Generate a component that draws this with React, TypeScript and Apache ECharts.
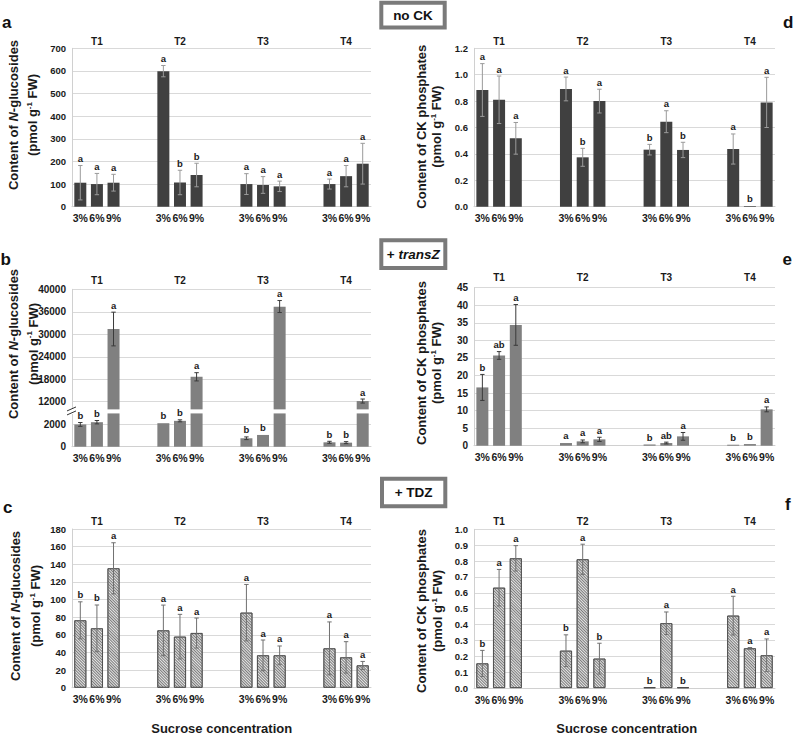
import React, { useEffect, useRef } from 'react';
import * as echarts from 'echarts';

const FONT = '"Liberation Sans", Arial, Helvetica, sans-serif';

const timepoints = ['T1', 'T2', 'T3', 'T4'];
const concentrations = ['3%', '6%', '9%'];

// (a) no CK — N-glucosides
const noCkGlucMeans = [[106, 100, 106], [599, 107, 140], [100, 96, 90], [100, 135, 190]];
const noCkGlucErr = [[76, 47, 37], [25, 54, 52], [46, 37, 23], [22, 47, 90]];
const noCkGlucLetters = [['a', 'a', 'a'], ['a', 'b', 'b'], ['a', 'a', 'a'], ['a', 'a', 'a']];

// (d) no CK — CK phosphates
const noCkPhosMeans = [[0.884, 0.81, 0.518], [0.892, 0.374, 0.8], [0.432, 0.644, 0.43], [0.437, 0.005, 0.79]];
const noCkPhosErr = [[0.2, 0.18, 0.12], [0.09, 0.068, 0.09], [0.04, 0.083, 0.058], [0.114, 0.002, 0.19]];
const noCkPhosLetters = [['a', 'a', 'a'], ['a', 'b', 'a'], ['b', 'a', 'b'], ['a', 'b', 'a']];

// (b) + transZ — N-glucosides
const tzGlucMeans = [[1980, 2180, 31400], [2090, 2300, 18650], [750, 1045, 36900], [390, 360, 12180]];
const tzGlucErr = [[170, 150, 4500], [30, 90, 1100], [120, 30, 1100], [90, 90, 540]];
const tzGlucLetters = [['b', 'b', 'a'], ['b', 'b', 'a'], ['b', 'b', 'a'], ['b', 'b', 'a']];
const brokenTicks = ['0', '2000', '12000', '18000', '24000', '30000', '36000', '40000'];

// (e) + transZ — CK phosphates
const tzPhosMeans = [[16.6, 25.7, 34.4], [0.76, 1.23, 1.8], [0.35, 0.76, 2.66], [0.28, 0.47, 10.35]];
const tzPhosErr = [[3.7, 1.1, 5.8], [0.1, 0.4, 0.6], [0.05, 0.25, 1.1], [0.05, 0.1, 0.7]];
const tzPhosLetters = [['b', 'ab', 'a'], ['a', 'a', 'a'], ['b', 'ab', 'a'], ['b', 'b', 'a']];

// (c) + TDZ — N-glucosides
const tdzGlucMeans = [[76.4, 67.3, 135.4], [65, 57.9, 62], [85.1, 36.7, 36.7], [44.6, 34.4, 25.3]];
const tdzGlucErr = [[21, 26.5, 29], [28.7, 25.3, 17], [32, 17.4, 10.6], [30, 17.8, 4.5]];
const tdzGlucLetters = [['b', 'b', 'a'], ['a', 'a', 'a'], ['a', 'a', 'a'], ['a', 'a', 'a']];

// (f) + TDZ — CK phosphates
const tdzPhosMeans = [[0.155, 0.632, 0.817], [0.235, 0.811, 0.185], [0.004, 0.408, 0.004], [0.456, 0.25, 0.206]];
const tdzPhosErr = [[0.082, 0.115, 0.08], [0.1, 0.095, 0.097], [0, 0.071, 0], [0.122, 0.005, 0.103]];
const tdzPhosLetters = [['b', 'a', 'a'], ['b', 'a', 'b'], ['b', 'a', 'b'], ['a', 'a', 'a']];

const GAP = 2;
const PER = concentrations.length + GAP;
const NSLOTS = timepoints.length * concentrations.length + (timepoints.length - 1) * GAP;
const slotLabels: string[] = [];
const slotHeaders: string[] = [];
for (let i = 0; i < NSLOTS; i++) {
  const g = Math.floor(i / PER);
  const c = i % PER;
  slotLabels.push(c < concentrations.length ? concentrations[c] : '');
  slotHeaders.push(c === 1 ? timepoints[g] : '');
}

// broken-axis scale for panel (b)
const brokenScale = (v: number) => {
  if (v <= 4000) return v / 2000;
  if (v <= 36000) return 2 + (v - 12000) / 6000;
  return 6 + (v - 36000) / 4000;
};
const identity = (v: number) => v;

type Panel = {
  means: number[][];
  errs: number[][];
  letters: string[][];
  grid: { left: number; top: number; width: number; height: number };
  max: number;
  interval: number;
  fmt: (v: number) => string;
  scale: (v: number) => number;
  barStyle: any;
  errColor: string;
  tickSize: number;
  headerMargin: number;
  broken?: boolean;
};

const hatch = {
  color: '#e6e6e6',
  borderColor: '#4a4a4a',
  borderWidth: 0.8,
  decal: {
    symbol: 'rect',
    symbolSize: 1,
    dashArrayX: [1, 0],
    dashArrayY: [1, 1],
    rotation: Math.PI / 4,
    color: '#7a7a7a',
  },
};

const panels: Panel[] = [
  {
    means: noCkGlucMeans, errs: noCkGlucErr, letters: noCkGlucLetters,
    grid: { left: 72, top: 48.3, width: 299, height: 158.4 },
    max: 700, interval: 100, fmt: (v) => String(v), scale: identity,
    barStyle: { color: '#404040' }, errColor: '#9a9a9a', tickSize: 9.5, headerMargin: 2,
  },
  {
    means: tzGlucMeans, errs: tzGlucErr, letters: tzGlucLetters,
    grid: { left: 72, top: 289.3, width: 299, height: 157.4 },
    max: 7, interval: 1, fmt: (v) => brokenTicks[Math.round(v)] ?? '', scale: brokenScale,
    barStyle: { color: '#808080' }, errColor: '#3a3a3a', tickSize: 10, headerMargin: 4, broken: true,
  },
  {
    means: tdzGlucMeans, errs: tdzGlucErr, letters: tdzGlucLetters,
    grid: { left: 72, top: 529, width: 299, height: 158.7 },
    max: 180, interval: 20, fmt: (v) => String(v), scale: identity,
    barStyle: hatch, errColor: '#707070', tickSize: 9.5, headerMargin: 2.5,
  },
  {
    means: noCkPhosMeans, errs: noCkPhosErr, letters: noCkPhosLetters,
    grid: { left: 474, top: 48.3, width: 301, height: 158.4 },
    max: 1.2, interval: 0.2, fmt: (v) => v.toFixed(1), scale: identity,
    barStyle: { color: '#404040' }, errColor: '#9a9a9a', tickSize: 9.5, headerMargin: 2,
  },
  {
    means: tzPhosMeans, errs: tzPhosErr, letters: tzPhosLetters,
    grid: { left: 474, top: 287.7, width: 301, height: 158 },
    max: 45, interval: 5, fmt: (v) => String(v), scale: identity,
    barStyle: { color: '#808080' }, errColor: '#3a3a3a', tickSize: 10, headerMargin: 5,
  },
  {
    means: tdzPhosMeans, errs: tdzPhosErr, letters: tdzPhosLetters,
    grid: { left: 474, top: 529.3, width: 301, height: 158.7 },
    max: 1.0, interval: 0.1, fmt: (v) => v.toFixed(1), scale: identity,
    barStyle: hatch, errColor: '#707070', tickSize: 9.5, headerMargin: 3,
  },
];

const titleRich = {
  b: { fontFamily: FONT, fontWeight: 'bold', fontSize: 13, fill: '#1a1a1a', lineHeight: 15 },
  bi: { fontFamily: FONT, fontWeight: 'bold', fontStyle: 'italic', fontSize: 13, fill: '#1a1a1a', lineHeight: 15 },
  sup: { fontFamily: FONT, fontWeight: 'bold', fontSize: 8, fill: '#1a1a1a', verticalAlign: 'top', lineHeight: 15 },
};

const glucLine1 = '{b|Content of }{bi|N}{b|-glucosides}';
const phosLine1 = '{b|Content of CK phosphates}';
const unitLine = '{b|(pmol g}{sup|-1}{b| FW)}';

const yTitles = [
  { l1: glucLine1, x1: 13, x2: 32.5, y: 115 },
  { l1: glucLine1, x1: 13, x2: 33, y: 344 },
  { l1: glucLine1, x1: 15, x2: 35.5, y: 606 },
  { l1: phosLine1, x1: 421, x2: 436.5, y: 126.7 },
  { l1: phosLine1, x1: 421, x2: 436.5, y: 363 },
  { l1: phosLine1, x1: 421.5, x2: 437.5, y: 611 },
];

const panelLetters = [
  { t: 'a', x: 2, y: 22 },
  { t: 'b', x: 0.5, y: 259 },
  { t: 'c', x: 3, y: 507 },
  { t: 'd', x: 783, y: 22 },
  { t: 'e', x: 782.5, y: 259 },
  { t: 'f', x: 785, y: 504 },
];

const boxes = [
  { text: '{b|no CK}', x: 381.3, y: 2.7, w: 63.4, h: 24.8, cy: 15 },
  { text: '{b|+ }{bi|transZ}', x: 381.3, y: 240.3, w: 64, h: 27.7, cy: 254.2 },
  { text: '{b|+ TDZ}', x: 382, y: 478.7, w: 63.3, h: 27.6, cy: 492.5 },
];

function buildOption() {
  const grid: any[] = [];
  const xAxis: any[] = [];
  const yAxis: any[] = [];
  const series: any[] = [];

  panels.forEach((p, pi) => {
    grid.push({ ...p.grid });
    xAxis.push({
      type: 'category', gridIndex: pi, data: slotLabels, position: 'bottom',
      axisLine: { show: true, lineStyle: { color: '#d0d0d0', width: 1 } },
      axisTick: { show: false },
      axisLabel: { interval: 0, margin: 6, fontFamily: FONT, fontWeight: 'bold', fontSize: 10.5, color: '#1a1a1a' },
      splitLine: { show: false },
    });
    xAxis.push({
      type: 'category', gridIndex: pi, data: slotHeaders, position: 'top',
      axisLine: { show: false }, axisTick: { show: false },
      axisLabel: { interval: 0, margin: p.headerMargin, fontFamily: FONT, fontWeight: 'bold', fontSize: 10, color: '#1a1a1a' },
      splitLine: { show: false },
    });
    yAxis.push({
      type: 'value', gridIndex: pi, min: 0, max: p.max, interval: p.interval,
      axisLine: { show: true, lineStyle: { color: '#d0d0d0', width: 1 } },
      axisTick: { show: false },
      axisLabel: {
        margin: 6, fontFamily: FONT, fontWeight: 'bold', fontSize: p.tickSize, color: '#1a1a1a',
        formatter: (v: number) => p.fmt(v),
      },
      splitLine: { show: true, lineStyle: { color: '#d9d9d9', width: 1 } },
    });

    const barData: any[] = [];
    for (let i = 0; i < NSLOTS; i++) {
      const g = Math.floor(i / PER);
      const c = i % PER;
      barData.push(c < concentrations.length ? p.scale(p.means[g][c]) : '-');
    }
    series.push({
      type: 'bar', xAxisIndex: pi * 2, yAxisIndex: pi, data: barData, barWidth: 12,
      itemStyle: p.barStyle, silent: true, z: 2,
    });

    const errData: number[][] = [];
    const lettersFlat: string[] = [];
    const tall: boolean[] = [];
    p.means.forEach((row, g) => {
      row.forEach((m, c) => {
        const e = p.errs[g][c];
        errData.push([g * PER + c, p.scale(Math.max(0, m - e)), p.scale(m + e)]);
        lettersFlat.push(p.letters[g][c]);
        tall.push(m > 4000);
      });
    });

    series.push({
      type: 'custom', xAxisIndex: pi * 2, yAxisIndex: pi, data: errData, z: 5, silent: true, clip: false,
      encode: { x: 0, y: [1, 2] },
      renderItem: (params: any, api: any) => {
        const slot = api.value(0);
        const lo = api.value(1);
        const hi = api.value(2);
        const pt = api.coord([slot, hi]);
        const pb = api.coord([slot, lo]);
        const x = pt[0];
        const children: any[] = [];
        const ls = { stroke: p.errColor, lineWidth: 1 };
        if (p.broken && tall[params.dataIndex]) {
          const g1 = api.coord([slot, 1.66]);
          const g0 = api.coord([slot, 1.48]);
          children.push({
            type: 'rect', shape: { x: x - 8, y: g1[1], width: 16, height: g0[1] - g1[1] },
            style: { fill: '#ffffff' },
          });
        }
        if (p.broken && params.dataIndex === 0) {
          const ax = params.coordSys.x;
          const yc = api.coord([0, 1.59])[1];
          children.push({ type: 'rect', shape: { x: ax - 1.5, y: yc - 3, width: 3, height: 6 }, style: { fill: '#ffffff' } });
          children.push({ type: 'line', shape: { x1: ax - 5, y1: yc, x2: ax + 4, y2: yc - 4 }, style: { stroke: '#333', lineWidth: 1 } });
          children.push({ type: 'line', shape: { x1: ax - 5, y1: yc + 4, x2: ax + 4, y2: yc }, style: { stroke: '#333', lineWidth: 1 } });
        }
        if (pb[1] - pt[1] > 0.8) {
          children.push({ type: 'line', shape: { x1: x, y1: pt[1], x2: x, y2: pb[1] }, style: ls });
          children.push({ type: 'line', shape: { x1: x - 2.2, y1: pt[1], x2: x + 2.2, y2: pt[1] }, style: ls });
          children.push({ type: 'line', shape: { x1: x - 2.2, y1: pb[1], x2: x + 2.2, y2: pb[1] }, style: ls });
        }
        children.push({
          type: 'text', x, y: pt[1] - 2,
          style: {
            text: lettersFlat[params.dataIndex], align: 'center', verticalAlign: 'bottom',
            fontFamily: FONT, fontWeight: 'bold', fontSize: 9.5, fill: '#1a1a1a',
          },
        });
        return { type: 'group', children };
      },
    });
  });

  const graphic: any[] = [];
  yTitles.forEach((t) => {
    graphic.push({
      type: 'text', x: t.x1, y: t.y, rotation: Math.PI / 2,
      style: { text: t.l1, rich: titleRich, align: 'center', verticalAlign: 'middle' },
    });
    graphic.push({
      type: 'text', x: t.x2, y: t.y, rotation: Math.PI / 2,
      style: { text: unitLine, rich: titleRich, align: 'center', verticalAlign: 'middle' },
    });
  });
  panelLetters.forEach((l) => {
    graphic.push({
      type: 'text', x: l.x, y: l.y,
      style: { text: l.t, align: 'left', verticalAlign: 'middle', fontFamily: FONT, fontWeight: 'bold', fontSize: 17, fill: '#111' },
    });
  });
  const boxRich = {
    b: { fontFamily: FONT, fontWeight: 'bold', fontSize: 13.5, fill: '#111' },
    bi: { fontFamily: FONT, fontWeight: 'bold', fontStyle: 'italic', fontSize: 13.5, fill: '#111' },
  };
  boxes.forEach((b) => {
    graphic.push({
      type: 'rect', shape: { x: b.x, y: b.y, width: b.w, height: b.h },
      style: { fill: '#ffffff', stroke: '#7a7a7a', lineWidth: 4 },
    });
    graphic.push({
      type: 'text', x: b.x + b.w / 2, y: b.cy,
      style: { text: b.text, rich: boxRich, align: 'center', verticalAlign: 'middle' },
    });
  });
  [221.7, 626.7].forEach((cx) => {
    graphic.push({
      type: 'text', x: cx, y: 728.3,
      style: { text: 'Sucrose concentration', align: 'center', verticalAlign: 'middle', fontFamily: FONT, fontWeight: 'bold', fontSize: 13, fill: '#1a1a1a' },
    });
  });

  return {
    animation: false,
    backgroundColor: '#ffffff',
    textStyle: { fontFamily: FONT },
    grid, xAxis, yAxis, series, graphic,
  };
}

export default function App() {
  const ref = useRef<HTMLDivElement>(null);
  useEffect(() => {
    if (!ref.current) return;
    const chart = echarts.init(ref.current, undefined, { renderer: 'svg' });
    chart.setOption(buildOption() as any);
    return () => chart.dispose();
  }, []);
  return <div ref={ref} style={{ position: 'absolute', left: 0, top: 0, width: 793, height: 735 }} />;
}
